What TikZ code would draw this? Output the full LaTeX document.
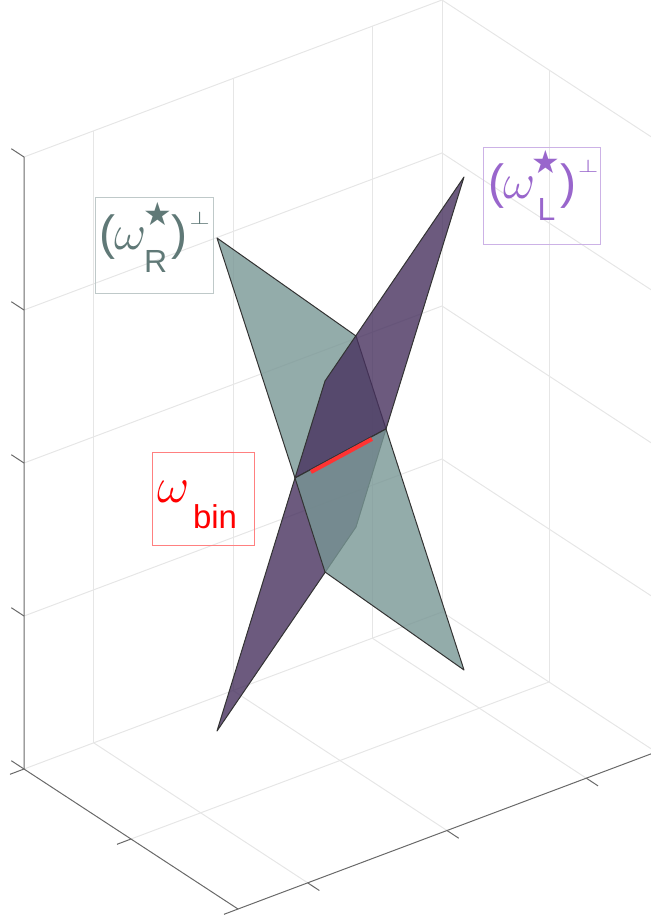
\documentclass[tikz,border=0pt]{standalone}
\usepackage{fontspec}
\setsansfont{Liberation Sans}
\newfontfamily\dejavu{DejaVu Sans}
\usetikzlibrary{calc}
\definecolor{planeR}{HTML}{789795}
\definecolor{planeL}{HTML}{47315E}
\definecolor{textR}{HTML}{607977}
\definecolor{textL}{HTML}{9966CC}
\definecolor{binred}{HTML}{FF3333}
\definecolor{gridgray}{HTML}{E6E6E6}
\definecolor{axisgray}{HTML}{696969}
\newcommand{\wstar}[2]{(\kern-0.5pt$\omega$\kern-2pt\rlap{\kern#2\raisebox{-11pt}{\fontsize{16}{16}\selectfont #1}}\raisebox{12.5pt}{\fontsize{16}{16}\selectfont\dejavu ★})\kern1pt\raisebox{13pt}{\fontsize{9}{9}\selectfont\scalebox{1.4}[1]{$\perp$}}}

\begin{document}
\begin{tikzpicture}[x=0.5pt, y=-0.5pt,
  grid/.style={gridgray, line width=0.5pt},
  ax/.style={axisgray, line width=0.5pt},
  face/.style={fill=#1, fill opacity=0.8, draw=black!80, line width=0.5pt, line join=round},
  lbox/.style={draw=#1, line width=0.5pt, inner sep=0pt, anchor=north west},
  ltxt/.style={text=#1, inner sep=0pt, anchor=base west, font=\fontsize{24}{28}\selectfont\sffamily}
]
  \useasboundingbox (0,0) rectangle (651,919);
  \clip (0,0) rectangle (651,919);
  % box corners
  \coordinate (L) at (24,769);
  \coordinate (F) at (238,909);
  \coordinate (K) at (442,612);
  \coordinate (R) at (656,752);
  % grid
  \foreach \z in {0,153,306,459,612}{\draw[grid] ($(L)+(0,-\z)$) -- ($(K)+(0,-\z)$) -- ($(R)+(0,-\z)$);}
  \foreach \s in {0.1667,0.5,0.8333,1}{\draw[grid] ($(L)!\s!(K)$) -- ++(0,-612);}
  \draw[grid] ($(K)!0.5!(R)$) -- ++(0,-612);
  \foreach \s in {0.1667,0.5,0.8333}{\draw[grid] ($(L)!\s!(K)$) -- ($(F)!\s!(R)$);}
  \draw[grid] ($(L)!0.5!(F)$) -- ($(K)!0.5!(R)$);
  % axes
  \draw[ax] ($(L)+(0,-612)$) -- (L) -- (F) -- (R);
  \foreach \z in {0,153,306,459,612}{\draw[ax] ($(L)+(0,-\z)$) -- ++(-12.7,-8.3);}
  \foreach \t in {0,0.5,1}{\draw[ax] ($(L)!\t!(F)$) -- ++(-14,5.3);}
  \foreach \s in {0.1667,0.5,0.8333}{\draw[ax] ($(F)!\s!(R)$) -- ++(11.7,7.7);}
  % planes
  \coordinate (gT) at (217,238);
  \coordinate (gR) at (356,336);
  \coordinate (gB) at (464,670);
  \coordinate (gS) at (325,572);
  \coordinate (pT) at (464,177);
  \coordinate (pP) at (325,381);
  \coordinate (pB) at (217,731);
  \coordinate (pQ) at (356,527);
  \coordinate (iL) at (295,478);
  \coordinate (iR) at (386,429);
  \draw[face=planeR] (gT) -- (gR) -- (iR) -- (iL) -- cycle;
  \draw[face=planeL] (iL) -- (iR) -- (pQ) -- (pB) -- cycle;
  \draw[face=planeL] (pT) -- (iR) -- (iL) -- (pP) -- cycle;
  \draw[face=planeR] (iL) -- (iR) -- (gB) -- (gS) -- cycle;
  % bin
  \coordinate (bA) at (311,472);
  \coordinate (bB) at (372,439);
  \draw[binred, line width=2pt] (bA) -- (bB);
  % labels
  \node[lbox=textR!40, minimum width=59pt, minimum height=48pt] (boxR) at (95,197) {};
  \node[ltxt=textR] (labR) at (99.5,250) {\wstar{R}{0.5pt}};
  \node[lbox=textL!50, minimum width=58.5pt, minimum height=48.5pt] (boxL) at (483,147) {};
  \node[ltxt=textL] (labL) at (488,199) {\wstar{L}{3pt}};
  \node[lbox=red!50, minimum width=51pt, minimum height=46.5pt] (boxBin) at (152,452) {};
  \node[ltxt=red] (labBin) at (157.5,502) {$\omega$\hspace{1.5pt}\raisebox{-13pt}{\fontsize{16.5}{17}\selectfont bin}};
\end{tikzpicture}
\end{document}
